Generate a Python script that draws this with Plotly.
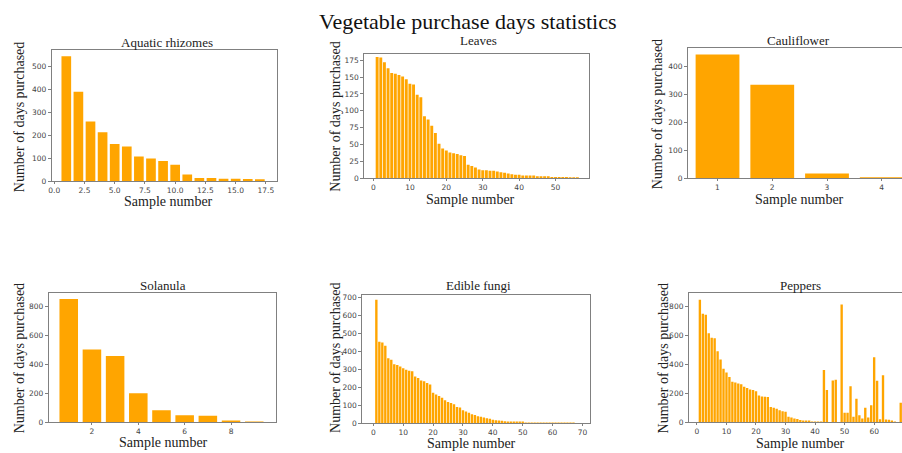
import plotly.graph_objects as go

W, H = 902, 453

main_title = "Vegetable purchase days statistics"
titles = ["Aquatic rhizomes", "Leaves", "Cauliflower", "Solanula", "Edible fungi", "Peppers"]
x_label = "Sample number"
y_label = "Number of days purchased"

aquatic = [546, 391, 261, 214, 162, 152, 108, 99, 88, 72, 29, 14, 14, 11, 11, 9, 8]
leaves = [180, 179, 172, 163, 156, 155, 153, 151, 147, 140, 139, 124, 120, 92, 87, 78, 67, 51,
          44, 41, 38, 37, 36, 34, 33, 20, 18, 16, 13, 12, 12, 11, 11, 10, 9, 8, 7, 6, 5, 5,
          4, 4, 4, 4, 3, 3, 3, 3, 2, 2, 2, 2, 2, 1, 1, 1]
cauliflower = [444, 335, 17, 3]
solanula = [849, 502, 457, 200, 83, 50, 45, 11, 4]
fungi = [687, 453, 450, 431, 362, 353, 329, 325, 316, 307, 298, 292, 289, 261, 252, 238, 234,
         225, 216, 170, 161, 152, 143, 128, 119, 113, 106, 91, 88, 73, 66, 59, 51, 46, 40, 37,
         33, 29, 26, 20, 18, 16, 14, 12, 11, 10, 9, 8, 7, 6, 5, 5, 4, 4, 3, 3, 3, 2, 2, 2, 2,
         1, 1, 1, 1, 1, 1]
peppers = [850, 753, 746, 617, 587, 583, 492, 435, 372, 345, 315, 281, 277, 270, 265, 247, 238,
           227, 224, 215, 186, 179, 177, 176, 107, 102, 95, 84, 77, 73, 39, 34, 27, 23, 16, 11,
           9, 7, 5, 4, 3, 2, 363, 224, 0, 290, 295, 0, 816, 66, 66, 250, 39, 163, 50, 27, 102,
           34, 118, 451, 288, 22, 327, 20, 18, 11, 5, 0, 136]

series = [aquatic, leaves, cauliflower, solanula, fungi, peppers]

# page-pixel boxes (left, right, top, bottom)
boxes = [(48, 274, 49, 182), (362, 588, 53, 179), (687, 902, 47, 179),
         (45, 273, 296, 427), (360, 589, 298, 428), (688, 902, 296, 427)]
xranges = [[-0.2, 18.4], [-2.5, 59.3], [0.46, 4.37], [0.14, 9.93], [-3.67, 72.67], [-2.7, 69.43]]
yranges = [[0, 572], [0, 184], [0, 466], [0, 888], [0, 711], [0, 893]]
xticks = [(0, 2.5, ".1f"), (0, 10, ""), (1, 1, ""), (0, 2, ""), (0, 10, ""), (0, 10, "")]
ydticks = [100, 25, 100, 200, 100, 200]
clipped = [False, False, True, False, False, True]

title_pos = [(164, 41), (477, 39), (798, 39), (160, 288), (477, 288), (800, 288)]
xlab_pos = [(165, 203), (469, 201), (799, 201), (160, 447), (470, 448), (800, 448)]
ylab_pos = [(15, 117), (333, 117), (656, 114), (15, 362), (333, 362), (662, 362)]

BAR = "#FFA500"
FRAME = "#808080"
TICKC = "#444444"
SERIF = "Liberation Serif, Times New Roman, serif"
SANS = "DejaVu Sans, Arial, sans-serif"


def px(x):
    return x / W


def py(y):
    return 1 - y / H


fig = go.Figure()
layout = {}
annotations = []

for i, vals in enumerate(series):
    n = i + 1
    xs = list(range(1, len(vals) + 1))
    fig.add_trace(go.Bar(x=xs, y=vals, marker=dict(color=BAR, line=dict(width=0)),
                         xaxis=f"x{n}" if n > 1 else "x", yaxis=f"y{n}" if n > 1 else "y",
                         showlegend=False))
    l, r, t, b = boxes[i]
    xd = [max(0, px(l)), min(1, px(r))]
    yd = [max(0, py(b)), min(1, py(t))]
    t0, dt, fmt = xticks[i]
    xa = dict(domain=xd, range=xranges[i], anchor=f"y{n}" if n > 1 else "y",
              showgrid=False, zeroline=False, showline=True, linecolor=FRAME, linewidth=1,
              mirror=True, ticks="outside", ticklen=2, tickcolor=FRAME,
              tick0=t0, dtick=dt, tickformat=fmt,
              tickfont=dict(family=SANS, size=7.5, color=TICKC))
    ya = dict(domain=yd, range=yranges[i], anchor=f"x{n}" if n > 1 else "x",
              showgrid=False, zeroline=False, showline=True, linecolor=FRAME, linewidth=1,
              mirror=not clipped[i], ticks="outside", ticklen=3, tickcolor=FRAME,
              tick0=0, dtick=ydticks[i],
              tickfont=dict(family=SANS, size=7.5, color=TICKC))
    layout["xaxis" if n == 1 else f"xaxis{n}"] = xa
    layout["yaxis" if n == 1 else f"yaxis{n}"] = ya

    tx, ty = title_pos[i]
    annotations.append(dict(text=titles[i], x=px(tx), y=py(ty), xref="paper", yref="paper",
                            showarrow=False, xanchor="center", yanchor="middle",
                            font=dict(family=SERIF, size=13, color="#222222")))
    lx, ly = xlab_pos[i]
    annotations.append(dict(text=x_label, x=px(lx), y=py(ly), xref="paper", yref="paper",
                            showarrow=False, xanchor="center", yanchor="middle",
                            font=dict(family=SERIF, size=14, color="#222222")))
    yx, yy = ylab_pos[i]
    annotations.append(dict(text=y_label, x=px(yx), y=py(yy), xref="paper", yref="paper",
                            showarrow=False, xanchor="center", yanchor="middle", textangle=-90,
                            font=dict(family=SERIF, size=14, color="#222222")))

annotations.append(dict(text=main_title, x=px(466), y=py(20), xref="paper", yref="paper",
                        showarrow=False, xanchor="center", yanchor="middle",
                        font=dict(family=SERIF, size=22, color="#111111")))

fig.update_layout(width=W, height=H, margin=dict(l=0, r=0, t=0, b=0),
                  paper_bgcolor="white", plot_bgcolor="white", bargap=0.2,
                  annotations=annotations, **layout)

fig.write_html("out.html", config={"displayModeBar": False},
               post_script="document.body.style.margin='0';"
                           "document.body.style.overflow='hidden';")
